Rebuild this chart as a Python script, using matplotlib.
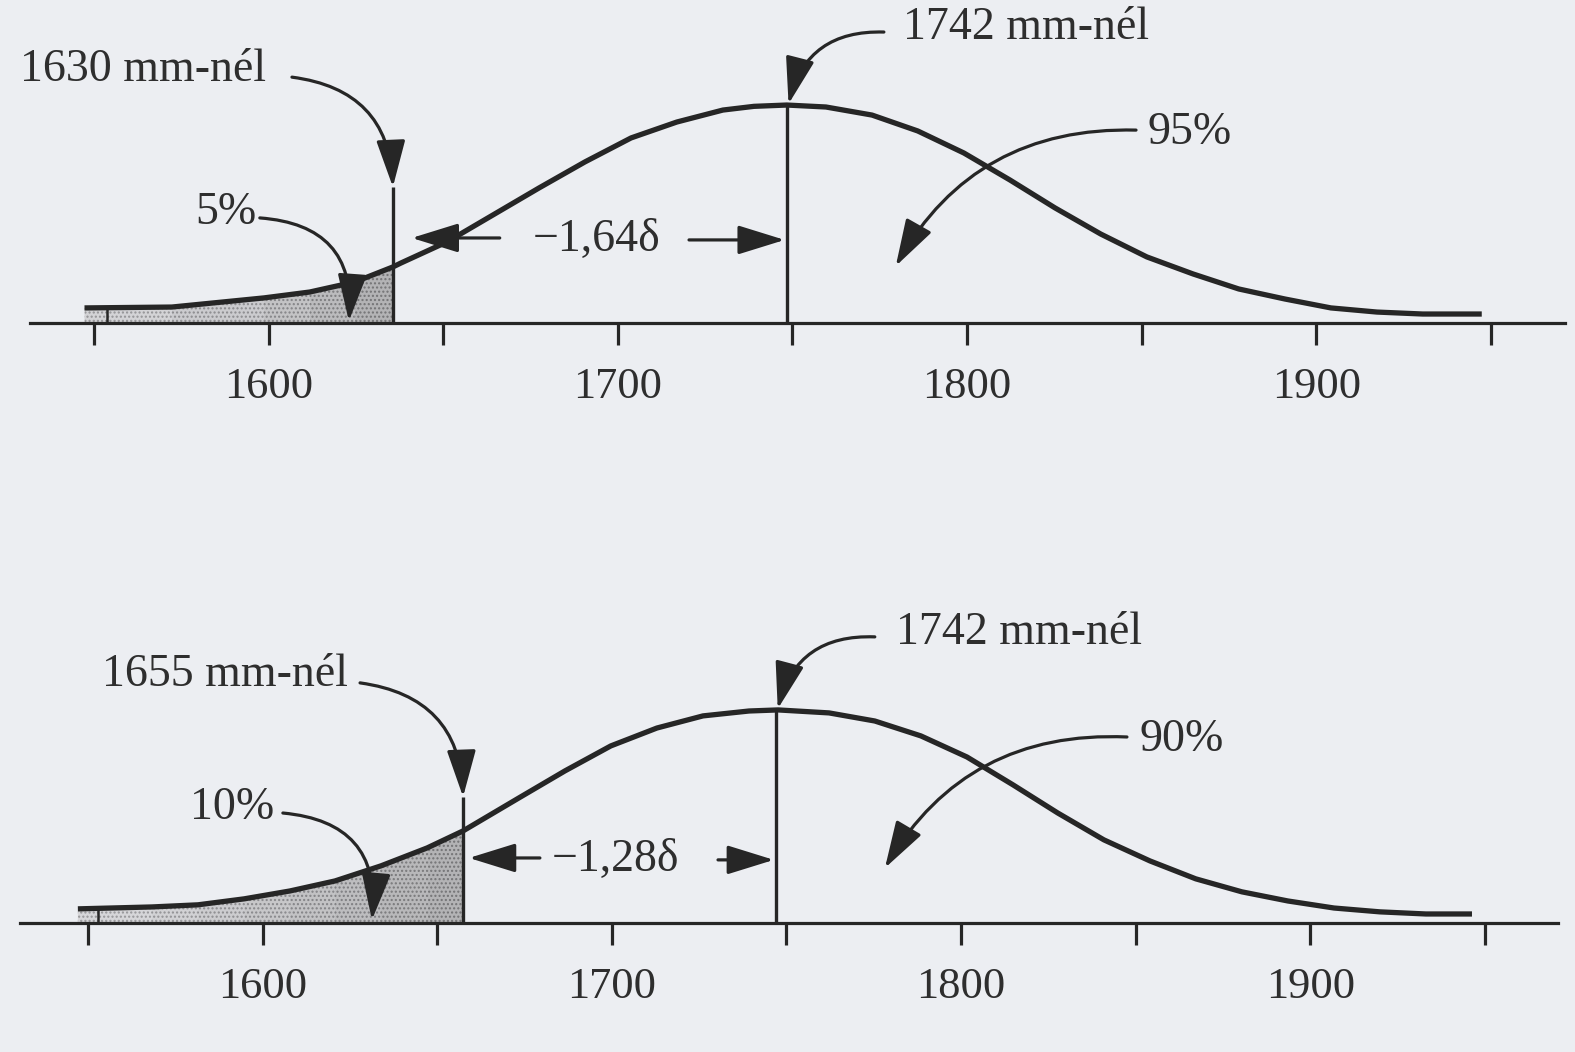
import matplotlib
matplotlib.use('Agg')
import matplotlib.pyplot as plt

# values (x in mm, curve height relative to peak = 100)
top_x = [1547.3, 1572.3, 1598.7, 1611.8, 1624.7, 1635.6, 1637.9, 1651.1, 1664.2, 1677.4,
         1690.6, 1703.8, 1716.9, 1730.1, 1739.0, 1748.4, 1759.6, 1772.8, 1785.9, 1799.1,
         1812.3, 1825.2, 1838.3, 1851.5, 1864.7, 1877.8, 1891.0, 1904.2, 1917.4, 1930.5,
         1947.4]
top_y = [6.9, 7.3, 11.5, 14.2, 18.8, 25.7, 27.5, 37.2, 49.5, 61.9,
         73.9, 84.9, 92.2, 97.7, 99.4, 100.0, 99.1, 95.4, 88.1, 78.0,
         65.6, 52.8, 40.8, 30.3, 22.5, 15.6, 11.0, 6.9, 5.0, 4.1,
         4.1]
bot_x = [1547.1, 1568.3, 1581.5, 1594.7, 1607.8, 1620.7, 1633.9, 1647.1, 1657.4, 1673.4,
         1686.6, 1699.7, 1712.9, 1726.1, 1739.3, 1747.6, 1762.2, 1775.3, 1788.5, 1801.7,
         1814.9, 1827.7, 1840.9, 1854.1, 1867.2, 1880.4, 1893.6, 1906.8, 1919.9, 1933.1,
         1946.3]
bot_y = [6.6, 7.5, 8.5, 11.3, 15.0, 19.7, 26.8, 35.2, 43.2, 58.7,
         71.4, 83.1, 91.5, 97.2, 99.5, 100.0, 98.6, 94.8, 87.8, 77.9,
         64.8, 51.6, 39.0, 29.1, 20.7, 14.6, 10.3, 7.0, 5.2, 4.2,
         4.2]

cut_x = [1635.6, 1657.4]      # drawn position of the cut-off line
cut_h = [62.4, 59.2]
mean_x = [1748.4, 1747.0]     # drawn position of the mean line
stub_x = [1553.7, 1552.9]

tick_pos = [1550, 1600, 1650, 1700, 1750, 1800, 1850, 1900, 1950]
tick_lab = ['', '1600', '', '1700', '', '1800', '', '1900', '']

labels_top = ['1630 mm-nél', '5%', '\u22121,64δ', '1742 mm-nél', '95%']
labels_bot = ['1655 mm-nél', '10%', '\u22121,28δ', '1742 mm-nél', '90%']

bg = '#eceef2'
ink = '#262626'
txt = '#2e2e2e'
fam = ['Liberation Serif', 'DejaVu Serif']
fs = 33

fig = plt.figure(figsize=(15.75, 10.52), dpi=100)
fig.patch.set_facecolor(bg)
ax1 = fig.add_axes([0, 0.5913, 1, 0.4087])
ax2 = fig.add_axes([0, 0, 1, 0.4677])
ax1.set_xlim(1523.1, 1974.1)
ax1.set_ylim(-49.1, 148.2)
ax2.set_xlim(1524.8, 1975.8)
ax2.set_ylim(-60.6, 170.4)

arrow_kw = dict(arrowstyle='-|>,head_length=1.45,head_width=0.45', color=ink, lw=2.3,
                shrinkA=0, shrinkB=0, mutation_scale=20)


def arrow(ax, tip, start, rad):
    ax.annotate('', xy=tip, xytext=start,
                arrowprops=dict(connectionstyle='arc3,rad=%s' % rad, **arrow_kw))


def label(ax, x, y, s, ha):
    ax.text(x, y, s, ha=ha, va='center', fontsize=fs, fontfamily=fam, color=txt)


def panel(ax, xs, ys, i, axis_lo, axis_hi):
    ax.set_facecolor(bg)
    for s in ['top', 'left', 'right']:
        ax.spines[s].set_visible(False)
    ax.spines['bottom'].set_position(('data', 0))
    ax.spines['bottom'].set_bounds(axis_lo, axis_hi)
    ax.spines['bottom'].set_linewidth(2.3)
    ax.spines['bottom'].set_color(ink)
    ax.set_yticks([])
    ax.set_xticks(tick_pos)
    ax.set_xticklabels(tick_lab, fontfamily=fam, fontsize=fs - 1, color=txt)
    ax.tick_params(axis='x', direction='out', length=16, width=2.3, pad=16, color=ink)

    # stippled tail, getting darker towards the cut-off line
    k = xs.index(cut_x[i])
    for j in range(k):
        f = (j + 1) / k
        g = 0.86 - 0.16 * f
        ax.fill_between(xs[j:j + 2], 0, ys[j:j + 2], facecolor=(g, g, g + 0.01),
                        edgecolor=(g - 0.25, g - 0.25, g - 0.24), hatch='....',
                        linewidth=0, zorder=1)
    ax.plot(xs, ys, color=ink, lw=3.8, solid_capstyle='butt', zorder=3)
    ax.vlines(cut_x[i], 0, cut_h[i], color=ink, lw=2.4, zorder=3)
    ax.vlines(mean_x[i], 0, 100, color=ink, lw=2.4, zorder=3)
    ax.vlines(stub_x[i], 0, ys[0] + 0.5, color=ink, lw=1.8, zorder=3)


panel(ax1, top_x, top_y, 0, 1531.7, 1971.2)
panel(ax2, bot_x, bot_y, 1, 1530.5, 1970.9)

# upper panel annotations
label(ax1, 1528.8, 116.1, labels_top[0], 'left')
arrow(ax1, (cut_x[0], cut_h[0]), (1606.7, 112.8), -0.42)
label(ax1, 1587.8, 50.5, labels_top[1], 'center')
arrow(ax1, (1623.0, 0.9), (1597.5, 48.2), -0.5)
label(ax1, 1694.0, 38.1, labels_top[2], 'center')
arrow(ax1, (1641.0, 39.0), (1666.2, 39.0), 0)
arrow(ax1, (mean_x[0] - 0.6, 38.1), (1720.4, 38.1), 0)
label(ax1, 1781.6, 135.3, labels_top[3], 'left')
arrow(ax1, (mean_x[0] + 0.5, 100.5), (1776.2, 133.5), 0.4)
label(ax1, 1863.8, 87.2, labels_top[4], 'center')
arrow(ax1, (1779.6, 26.1), (1848.4, 88.5), 0.3)

# lower panel annotations
label(ax2, 1554.0, 116.4, labels_bot[0], 'left')
arrow(ax2, (cut_x[1], cut_h[1]), (1627.9, 112.7), -0.42)
label(ax2, 1591.2, 54.0, labels_bot[1], 'center')
arrow(ax2, (1631.3, 1.4), (1605.8, 51.6), -0.5)
label(ax2, 1700.9, 29.6, labels_bot[2], 'center')
arrow(ax2, (1659.1, 30.5), (1679.4, 30.5), 0)
arrow(ax2, (mean_x[1] - 0.6, 29.6), (1730.4, 29.6), 0)
label(ax2, 1781.4, 136.2, labels_bot[3], 'left')
arrow(ax2, (mean_x[1] + 0.5, 100.5), (1775.3, 134.3), 0.4)
label(ax2, 1863.2, 85.9, labels_bot[4], 'center')
arrow(ax2, (1778.2, 25.8), (1847.5, 87.3), 0.3)

fig.savefig('out.png', dpi=100, facecolor=bg)
